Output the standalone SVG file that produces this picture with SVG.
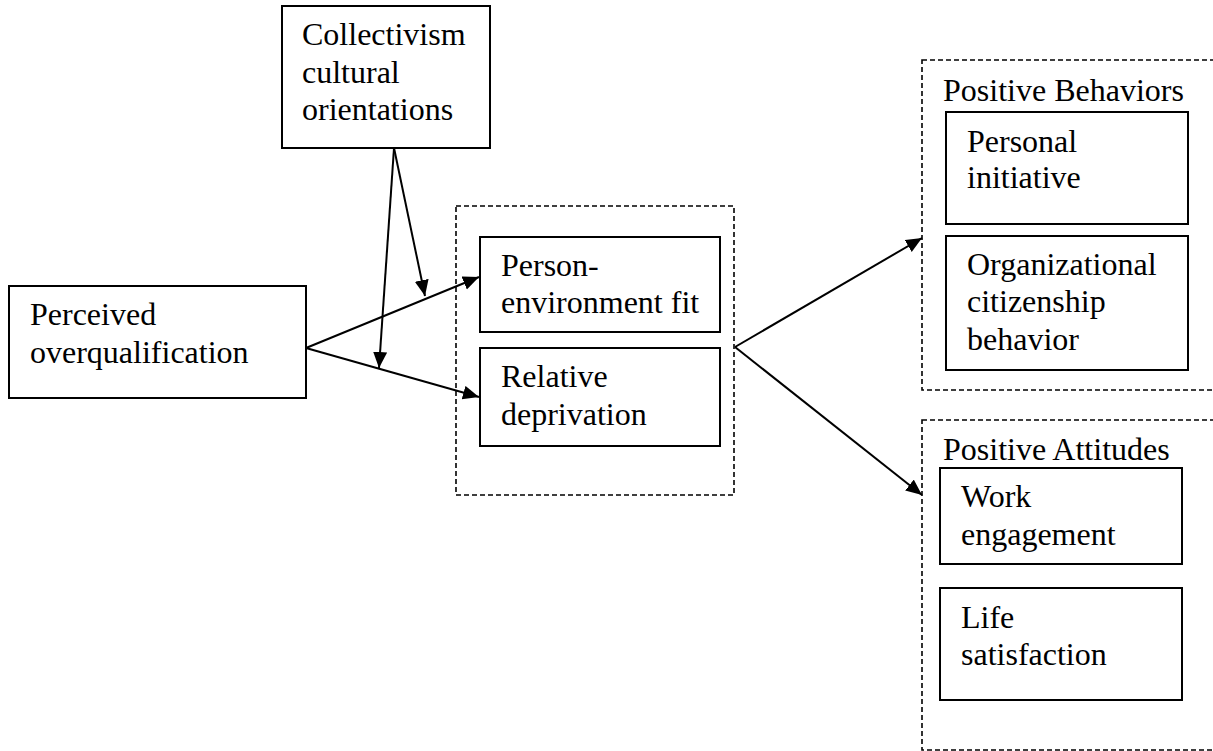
<svg xmlns="http://www.w3.org/2000/svg" width="1213" height="751" viewBox="0 0 1213 751">
<style>
.box{fill:#fff;stroke:#000;stroke-width:2}
.grp{fill:none;stroke:#000;stroke-width:1.6;stroke-dasharray:5,3}
.t{font-family:"Liberation Serif","Times New Roman","DejaVu Serif",serif;font-size:32px;fill:#000}
.c{fill:none;stroke:#000;stroke-width:2}
</style>
<defs>
<marker id="ah" markerUnits="userSpaceOnUse" markerWidth="18" markerHeight="16" refX="16" refY="7" orient="auto">
<path d="M0,0 L16,7 L0,14 z" fill="#000"/>
</marker>
</defs>
<rect width="1213" height="751" fill="#fff"/>
<g id="mediators-group"><rect class="grp" x="456" y="206" width="278" height="289"/></g>
<g id="behaviors-group"><rect class="grp" x="922" y="60" width="300" height="330"/><text class="t" x="943" y="101">Positive Behaviors</text></g>
<g id="attitudes-group"><rect class="grp" x="922" y="420" width="300" height="330"/><text class="t" x="943" y="460">Positive Attitudes</text></g>
<g id="collectivism"><rect class="box" x="282" y="6" width="208" height="142"/><text class="t" x="302" y="45">Collectivism</text><text class="t" x="302" y="83">cultural</text><text class="t" x="302" y="120">orientations</text></g>
<g id="overqualification"><rect class="box" x="9" y="286" width="297" height="112"/><text class="t" x="30" y="325">Perceived</text><text class="t" x="30" y="363">overqualification</text></g>
<g id="pe-fit"><rect class="box" x="480" y="237" width="240" height="95"/><text class="t" x="501" y="276">Person-</text><text class="t" x="501" y="313">environment fit</text></g>
<g id="relative-deprivation"><rect class="box" x="480" y="348" width="240" height="98"/><text class="t" x="501" y="387">Relative</text><text class="t" x="501" y="425">deprivation</text></g>
<g id="personal-initiative"><rect class="box" x="946" y="112" width="242" height="112"/><text class="t" x="967" y="152">Personal</text><text class="t" x="967" y="188">initiative</text></g>
<g id="ocb"><rect class="box" x="946" y="236" width="242" height="134"/><text class="t" x="967" y="275">Organizational</text><text class="t" x="967" y="312">citizenship</text><text class="t" x="967" y="350">behavior</text></g>
<g id="work-engagement"><rect class="box" x="940" y="468" width="242" height="96"/><text class="t" x="961" y="507">Work</text><text class="t" x="961" y="545">engagement</text></g>
<g id="life-satisfaction"><rect class="box" x="940" y="588" width="242" height="112"/><text class="t" x="961" y="628">Life</text><text class="t" x="961" y="665">satisfaction</text></g>
<g id="connectors">
<line class="c" x1="306" y1="348" x2="479" y2="277" marker-end="url(#ah)"/>
<line class="c" x1="306" y1="348" x2="479" y2="397" marker-end="url(#ah)"/>
<line class="c" x1="394" y1="148" x2="425" y2="296" marker-end="url(#ah)"/>
<line class="c" x1="394" y1="148" x2="379" y2="368" marker-end="url(#ah)"/>
<line class="c" x1="735" y1="347" x2="922" y2="238" marker-end="url(#ah)"/>
<line class="c" x1="735" y1="347" x2="922" y2="495" marker-end="url(#ah)"/>
</g>
</svg>
